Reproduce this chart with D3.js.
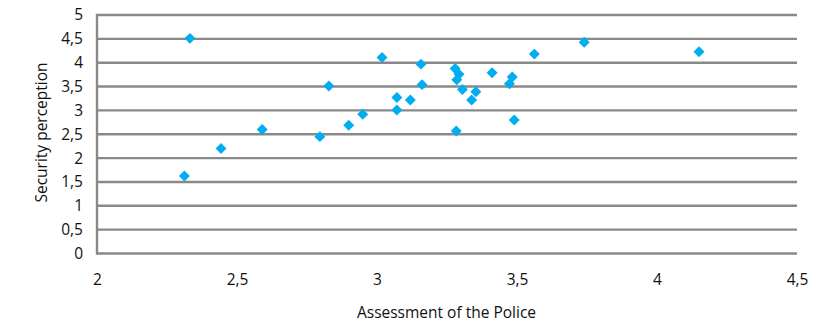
<!DOCTYPE html>
<html>
<head>
<meta charset="utf-8">
<script src="https://cdn.jsdelivr.net/npm/d3@7"></script>
<style>
  html, body { margin: 0; padding: 0; background: #fff; }
  svg { display: block; font-family: "Open Sans", sans-serif; }
</style>
</head>
<body>
<svg id="chart" width="831" height="335"></svg>
<script>
const policeAssessment = [2.312, 2.332, 2.443, 2.590, 2.796, 2.828, 2.899, 2.949, 3.018, 3.071,
  3.071, 3.119, 3.157, 3.161, 3.279, 3.293, 3.285, 3.283, 3.305, 3.338,
  3.353, 3.411, 3.483, 3.473, 3.490, 3.562, 3.740, 4.150];
const securityPerception = [1.625, 4.51, 2.20, 2.60, 2.45, 3.51, 2.69, 2.92, 4.11, 3.27,
  3.01, 3.22, 3.97, 3.54, 3.88, 3.76, 3.64, 2.57, 3.44, 3.22,
  3.39, 3.79, 3.70, 3.56, 2.80, 4.18, 4.43, 4.23];
const xTicks = [2, 2.5, 3, 3.5, 4, 4.5];
const yTicks = [0, 0.5, 1, 1.5, 2, 2.5, 3, 3.5, 4, 4.5, 5];
const xTitle = "Assessment of the Police";
const yTitle = "Security perception";

(function () {
const svg = d3.select("#chart");
const mLeft = 97, mRight = 797, mTop = 15, mBottom = 253.5;
const x = d3.scaleLinear().domain([2, 4.5]).range([mLeft, mRight]);
const y = d3.scaleLinear().domain([0, 5]).range([mBottom, mTop]);
const fmt = d => String(d).replace(".", ",");
const gridColor = "#898989";
const textColor = "#111";

svg.append("g").selectAll("line").data(yTicks).join("line")
  .attr("x1", mLeft).attr("x2", mRight)
  .attr("y1", d => y(d)).attr("y2", d => y(d))
  .attr("stroke", gridColor).attr("stroke-width", 2.4);

svg.append("line")
  .attr("x1", mLeft).attr("x2", mLeft)
  .attr("y1", y(5) - 1.2).attr("y2", y(0) + 1.2)
  .attr("stroke", gridColor).attr("stroke-width", 2.4);

const yAxis = d3.axisLeft(y).tickValues(yTicks).tickFormat(fmt).tickSize(0).tickPadding(14);
const gy = svg.append("g").attr("transform", `translate(${mLeft},0)`).call(yAxis);
gy.select(".domain").remove();
gy.selectAll("text").attr("font-size", 15.5).attr("font-family", "Open Sans, sans-serif").attr("fill", textColor);

const xAxis = d3.axisBottom(x).tickValues(xTicks).tickFormat(fmt).tickSize(0).tickPadding(20);
const gx = svg.append("g").attr("transform", `translate(0,${mBottom})`).call(xAxis);
gx.select(".domain").remove();
gx.selectAll("text").attr("font-size", 15.5).attr("font-family", "Open Sans, sans-serif").attr("fill", textColor);

const data = policeAssessment.map((v, i) => ({ x: v, y: securityPerception[i] }));
const sym = d3.symbol().type(d3.symbolSquare).size(60);
svg.append("g").selectAll("path").data(data).join("path")
  .attr("d", sym)
  .attr("transform", d => `translate(${x(d.x)},${y(d.y)}) rotate(45)`)
  .attr("fill", "#00AEEF");

svg.append("text")
  .attr("x", 446.5).attr("y", 318)
  .attr("text-anchor", "middle").attr("font-size", 15.5).attr("fill", textColor)
  .text(xTitle);
svg.append("text")
  .attr("transform", `translate(47,132.5) rotate(-90)`)
  .attr("text-anchor", "middle").attr("font-size", 15.5).attr("fill", textColor)
  .text(yTitle);
})();
</script>
</body>
</html>
